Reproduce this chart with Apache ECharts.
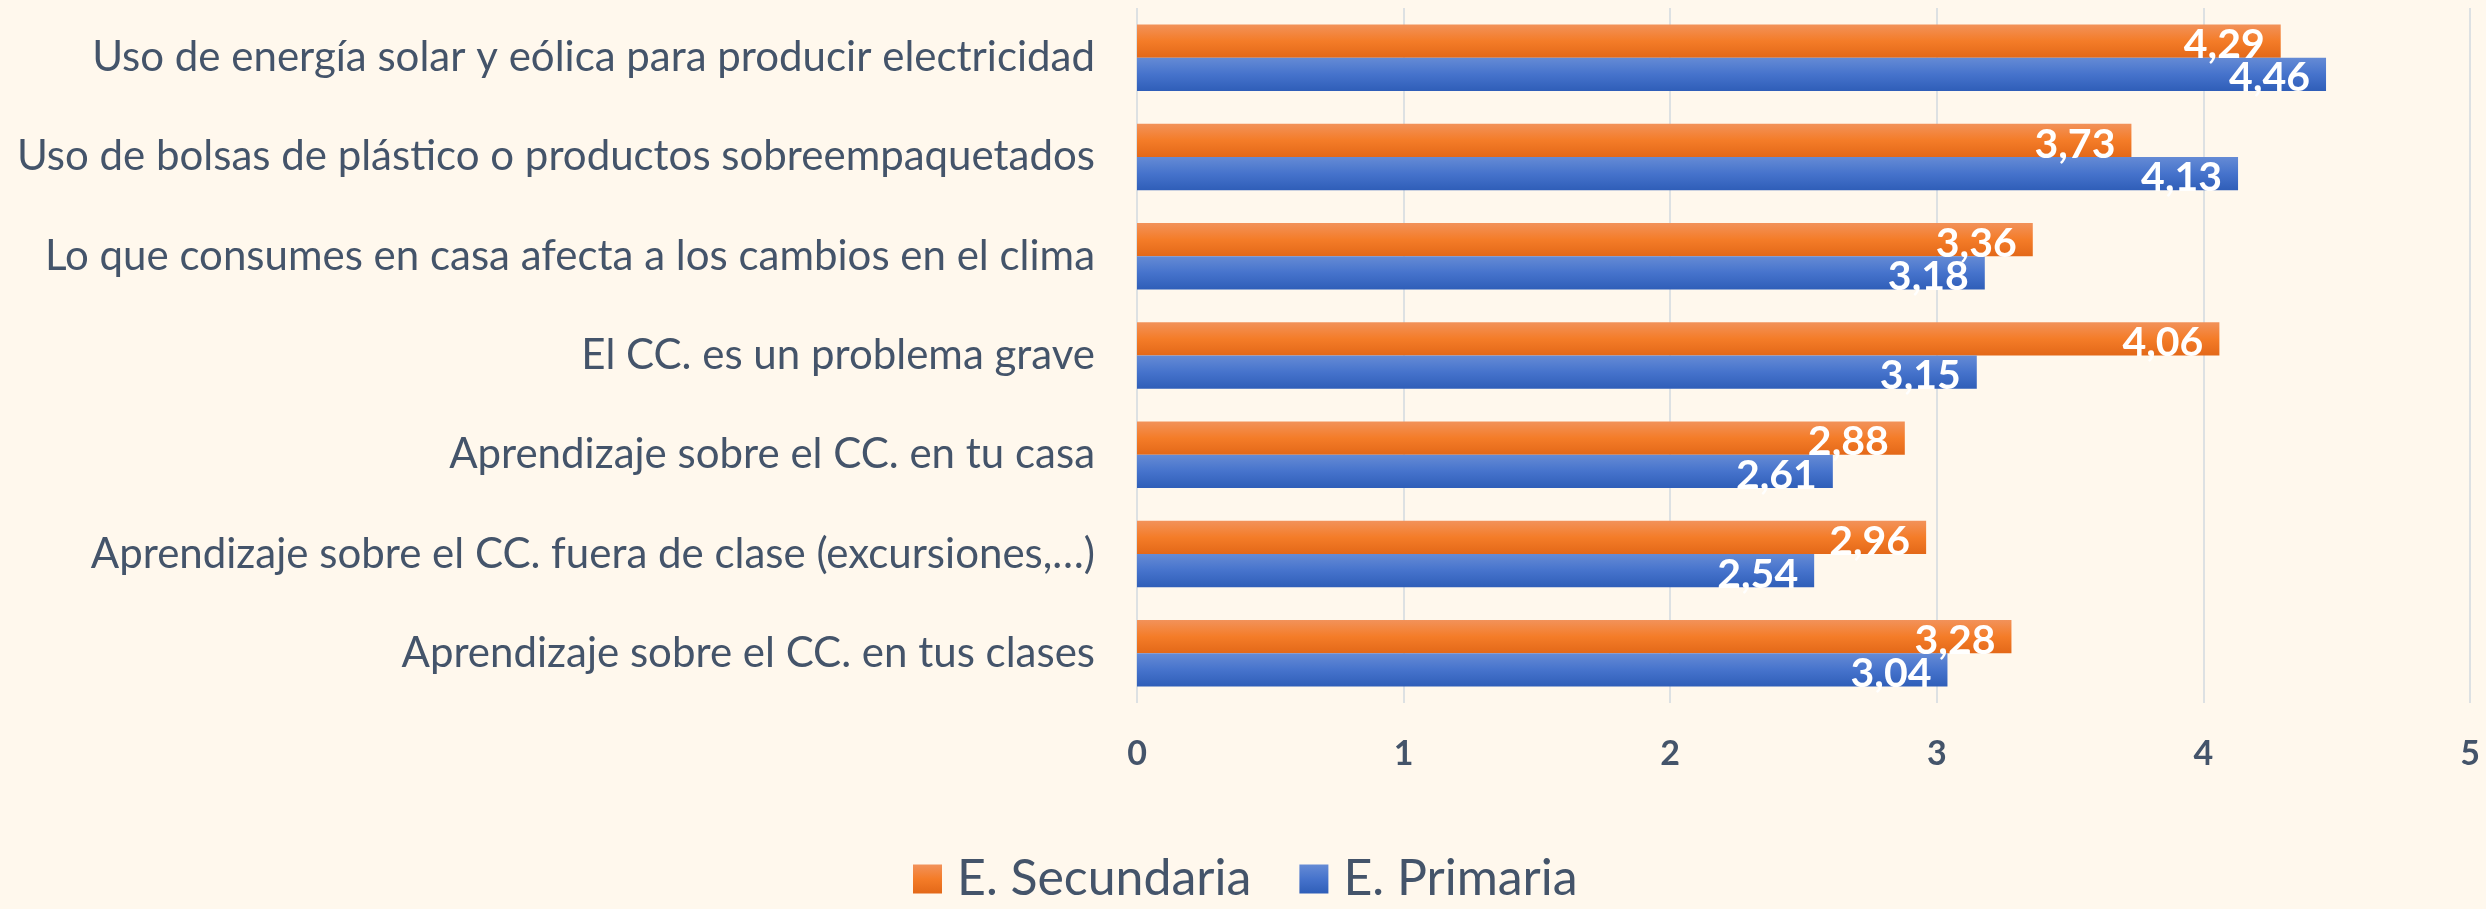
<!DOCTYPE html>
<html>
<head>
<meta charset="utf-8">
<script src="https://cdn.jsdelivr.net/npm/echarts@6/dist/echarts.min.js"></script>
<style>
  html, body { margin: 0; padding: 0; background: #fff8ed; }
  #chart { width: 2486px; height: 909px; }
</style>
</head>
<body>
<div id="chart"></div>
<script>
// categories from top to bottom
const categories = [
  'Uso de energía solar y eólica para producir electricidad',
  'Uso de bolsas de plástico o productos sobreempaquetados',
  'Lo que consumes en casa afecta a los cambios en el clima',
  'El CC. es un problema grave',
  'Aprendizaje sobre el CC. en tu casa',
  'Aprendizaje sobre el CC. fuera de clase (excursiones,…)',
  'Aprendizaje sobre el CC. en tus clases'
];
const secundaria = [4.29, 3.73, 3.36, 4.06, 2.88, 2.96, 3.28];
const primaria = [4.46, 4.13, 3.18, 3.15, 2.61, 2.54, 3.04];

const textColor = '#44546a';
const fontFamily = 'Lato, "Open Sans", sans-serif';

function grad(top, mid, bottom) {
  return new echarts.graphic.LinearGradient(0, 0, 0, 1, [
    { offset: 0, color: top },
    { offset: 0.5, color: mid },
    { offset: 1, color: bottom }
  ]);
}

const orange = grad('#f2925a', '#f47c28', '#e36818');
const blue = grad('#658bd5', '#4673cc', '#2f5eb8');

const labelOpt = {
  show: true,
  position: 'insideRight',
  distance: 16,
  offset: [0, 4],
  color: '#ffffff',
  fontFamily: fontFamily,
  fontWeight: 'bold',
  fontSize: 41,
  formatter: p => p.value.toFixed(2).replace('.', ',')
};

const chart = echarts.init(document.getElementById('chart'));
chart.setOption({
  backgroundColor: '#fff8ed',
  animation: false,
  grid: { left: 1137, right: 16, top: 8, bottom: 206, containLabel: false },
  legend: {
    bottom: 0,
    left: 908,
    icon: 'rect',
    itemWidth: 29,
    itemHeight: 29,
    itemGap: 48,
    textStyle: { color: textColor, fontSize: 50, fontFamily: fontFamily, padding: [0, 0, 0, 10] },
    data: [
      { name: 'E. Secundaria', itemStyle: { color: orange } },
      { name: 'E. Primaria', itemStyle: { color: blue } }
    ]
  },
  xAxis: {
    type: 'value',
    min: 0,
    max: 5,
    interval: 1,
    axisLine: { show: false },
    axisTick: { show: false },
    splitLine: { lineStyle: { color: '#dde1e3', width: 2 } },
    axisLabel: {
      color: textColor,
      fontSize: 34,
      fontWeight: 'bold',
      fontFamily: fontFamily,
      margin: 34
    }
  },
  yAxis: {
    type: 'category',
    inverse: true,
    data: categories,
    axisLine: { show: false },
    axisTick: { show: false },
    axisLabel: {
      color: textColor,
      fontSize: 42,
      fontFamily: fontFamily,
      margin: 42
    }
  },
  series: [
    {
      name: 'E. Secundaria',
      type: 'bar',
      data: secundaria,
      barGap: '0%',
      barCategoryGap: '33%',
      itemStyle: { color: orange },
      label: labelOpt
    },
    {
      name: 'E. Primaria',
      type: 'bar',
      data: primaria,
      barGap: '0%',
      barCategoryGap: '33%',
      itemStyle: { color: blue },
      label: labelOpt
    }
  ]
});
</script>
</body>
</html>
